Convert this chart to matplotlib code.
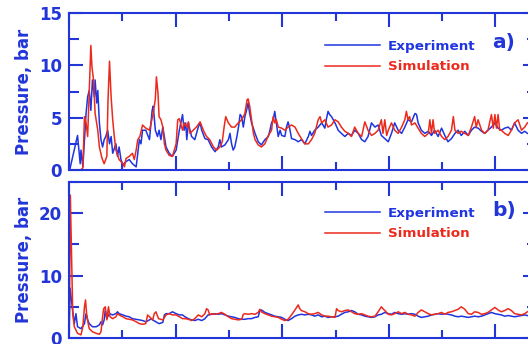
import matplotlib
matplotlib.use('Agg')
import matplotlib.pyplot as plt
from matplotlib.ticker import MultipleLocator

# --- data (time in tick units, pressure in bar) ---
exp_a_t = [
    0.02, 0.16, 0.21, 0.225, 0.26, 0.29, 0.32, 0.35, 0.38, 0.41,
    0.44, 0.475, 0.49, 0.52, 0.54, 0.57, 0.60, 0.63, 0.66, 0.69,
    0.725, 0.76, 0.79, 0.82, 0.88, 0.91, 0.94, 0.975, 1.01, 1.07,
    1.13, 1.19, 1.26, 1.29, 1.32, 1.35, 1.38, 1.44, 1.51, 1.56,
    1.58, 1.62, 1.66, 1.69, 1.725, 1.76, 1.82, 1.88, 1.94, 2.01,
    2.07, 2.13, 2.16, 2.19, 2.21, 2.24, 2.27, 2.30, 2.36, 2.425,
    2.46, 2.49, 2.55, 2.61, 2.675, 2.74, 2.80, 2.83, 2.86, 2.925,
    2.99, 3.02, 3.05, 3.08, 3.11, 3.15, 3.18, 3.21, 3.24, 3.27,
    3.30, 3.33, 3.36, 3.39, 3.425, 3.49, 3.55, 3.61, 3.675, 3.74,
    3.77, 3.80, 3.83, 3.86, 3.89, 3.925, 3.96, 3.99, 4.05, 4.08,
    4.11, 4.14, 4.175, 4.24, 4.30, 4.36, 4.425, 4.49, 4.52, 4.55,
    4.61, 4.675, 4.74, 4.80, 4.83, 4.86, 4.89, 4.925, 4.99, 5.05,
    5.11, 5.175, 5.24, 5.30, 5.36, 5.425, 5.49, 5.55, 5.61, 5.675,
    5.74, 5.80, 5.86, 5.925, 5.99, 6.05, 6.11, 6.175, 6.24, 6.30,
    6.36, 6.425, 6.49, 6.52, 6.55, 6.61, 6.675, 6.74, 6.80, 6.86,
    6.925, 6.99, 7.05, 7.11, 7.175, 7.24, 7.30, 7.36, 7.425, 7.49,
    7.55, 7.61, 7.675, 7.74, 7.80, 7.86, 7.925, 7.99, 8.05, 8.11,
    8.175, 8.24, 8.30, 8.36, 8.425, 8.49, 8.55, 8.60]
exp_a_p = [
    0.16, 3.3, 0.6, 1.9, 0.3, 2.9, 5.4, 7.0, 7.6, 5.7,
    8.6, 7.0, 8.6, 6.4, 7.6, 4.5, 2.9, 2.2, 2.9, 3.2,
    3.8, 2.5, 3.2, 1.6, 2.5, 1.3, 2.2, 1.0, 0.5, 0.8,
    1.0, 0.6, 0.3, 1.6, 2.9, 2.5, 3.8, 3.8, 2.9, 5.7,
    6.1, 3.8, 3.2, 3.8, 2.9, 4.1, 2.2, 1.6, 1.3, 1.9,
    3.8, 5.3, 3.8, 4.5, 2.9, 4.5, 3.8, 3.2, 2.9, 4.1,
    4.5, 3.8, 3.0, 2.9, 2.2, 1.75, 2.2, 2.9, 2.2, 2.4,
    2.9, 3.5, 2.5, 1.9, 2.2, 3.2, 4.1, 5.3, 5.1, 4.1,
    5.1, 5.7, 6.4, 5.4, 4.5, 3.5, 2.7, 2.4, 2.9, 3.2,
    3.8, 4.5, 4.8, 5.6, 4.5, 3.2, 3.8, 3.3, 3.2, 4.1,
    4.6, 4.0, 3.0, 2.9, 2.7, 2.9, 2.5, 3.2, 3.7, 3.3,
    3.8, 4.1, 4.5, 4.0, 4.9, 5.6, 5.3, 5.1, 4.5, 3.8,
    3.5, 3.2, 3.5, 3.3, 3.8, 3.5, 2.9, 2.7, 3.2, 4.5,
    4.1, 4.3, 3.3, 3.0, 2.7, 3.5, 4.5, 3.8, 3.5, 4.1,
    4.8, 4.6, 5.4, 5.3, 4.5, 3.8, 3.5, 3.7, 3.3, 3.8,
    3.2, 4.0, 3.3, 2.7, 3.0, 3.5, 3.8, 3.3, 3.7, 3.3,
    3.8, 4.1, 4.0, 3.7, 3.5, 3.8, 4.1, 4.5, 4.0, 3.8,
    4.0, 4.1, 3.8, 4.5, 3.8, 3.5, 3.7, 3.5]

sim_a_t = [
    0.22, 0.26, 0.29, 0.32, 0.35, 0.37, 0.39, 0.41, 0.43, 0.46,
    0.49, 0.54, 0.57, 0.62, 0.66, 0.71, 0.73, 0.76, 0.79, 0.82,
    0.85, 0.88, 0.94, 1.01, 1.04, 1.07, 1.13, 1.19, 1.225, 1.26,
    1.29, 1.33, 1.38, 1.44, 1.51, 1.54, 1.58, 1.62, 1.64, 1.67,
    1.69, 1.725, 1.76, 1.79, 1.82, 1.88, 1.94, 2.01, 2.04, 2.07,
    2.13, 2.16, 2.21, 2.24, 2.27, 2.33, 2.39, 2.46, 2.52, 2.58,
    2.64, 2.71, 2.77, 2.83, 2.875, 2.91, 2.94, 2.99, 3.05, 3.11,
    3.175, 3.24, 3.30, 3.34, 3.36, 3.39, 3.425, 3.46, 3.49, 3.55,
    3.61, 3.675, 3.74, 3.80, 3.83, 3.86, 3.89, 3.925, 3.99, 4.05,
    4.11, 4.175, 4.24, 4.30, 4.36, 4.425, 4.49, 4.55, 4.61, 4.675,
    4.71, 4.74, 4.80, 4.86, 4.925, 4.99, 5.05, 5.11, 5.175, 5.24,
    5.30, 5.36, 5.425, 5.49, 5.55, 5.61, 5.675, 5.74, 5.80, 5.86,
    5.89, 5.925, 5.96, 5.99, 6.05, 6.11, 6.175, 6.24, 6.30, 6.33,
    6.36, 6.39, 6.425, 6.49, 6.55, 6.61, 6.675, 6.74, 6.77, 6.80,
    6.83, 6.86, 6.925, 6.99, 7.05, 7.11, 7.175, 7.21, 7.24, 7.30,
    7.36, 7.425, 7.49, 7.55, 7.61, 7.64, 7.675, 7.74, 7.80, 7.86,
    7.925, 7.96, 7.99, 8.02, 8.05, 8.08, 8.11, 8.175, 8.24, 8.30,
    8.36, 8.425, 8.49, 8.55, 8.60]
sim_a_p = [
    0.0, 0.2, 5.1, 4.5, 3.2, 6.1, 9.2, 11.9, 9.9, 8.6,
    5.4, 3.8, 2.2, 1.1, 0.6, 1.3, 6.4, 10.4, 7.0, 4.8,
    3.2, 1.9, 1.0, 0.6, 0.3, 1.1, 1.3, 1.6, 1.0, 1.9,
    2.9, 3.2, 4.3, 4.0, 3.8, 4.5, 5.4, 6.8, 8.9, 7.3,
    5.1, 4.8, 4.1, 2.5, 1.9, 1.4, 1.3, 2.5, 4.8, 4.9,
    3.8, 4.5, 4.1, 4.6, 3.5, 3.8, 4.1, 4.6, 3.8, 3.2,
    2.9, 2.2, 1.9, 2.2, 2.7, 4.1, 5.1, 4.5, 4.1, 4.1,
    4.5, 4.8, 5.4, 6.7, 6.8, 6.1, 4.8, 3.5, 2.9, 2.4,
    2.2, 2.5, 3.3, 3.8, 5.1, 4.5, 4.8, 4.1, 4.0, 3.8,
    4.1, 4.3, 4.1, 3.5, 3.0, 2.5, 2.5, 2.9, 3.5, 4.8,
    5.1, 4.5, 4.8, 4.1, 4.3, 4.8, 4.6, 4.1, 3.7, 3.5,
    3.2, 4.1, 3.5, 3.2, 4.6, 3.8, 3.3, 3.5, 3.8, 4.8,
    3.5, 4.8, 3.3, 3.8, 4.5, 3.8, 3.5, 4.1, 4.8, 5.6,
    4.8, 5.1, 4.3, 4.5, 4.0, 3.5, 3.2, 3.5, 4.8, 3.5,
    4.8, 3.5, 3.8, 3.2, 2.9, 3.2, 3.8, 5.1, 3.8, 3.5,
    3.7, 3.5, 3.3, 4.1, 5.1, 4.1, 4.8, 3.8, 3.5, 3.8,
    5.3, 4.0, 5.3, 4.0, 5.3, 3.8, 3.8, 3.5, 3.3, 3.8,
    4.5, 4.8, 3.8, 4.1, 4.5]

exp_b_t = [
    0.0, 0.02, 0.06, 0.10, 0.13, 0.16, 0.225, 0.29, 0.32, 0.35,
    0.38, 0.44, 0.51, 0.57, 0.60, 0.63, 0.66, 0.68, 0.71, 0.725,
    0.76, 0.82, 0.88, 0.91, 0.94, 1.01, 1.07, 1.13, 1.19, 1.26,
    1.32, 1.38, 1.44, 1.51, 1.54, 1.57, 1.63, 1.69, 1.76, 1.79,
    1.82, 1.88, 1.94, 2.01, 2.07, 2.13, 2.175, 2.24, 2.30, 2.36,
    2.425, 2.49, 2.55, 2.61, 2.675, 2.74, 2.80, 2.86, 2.925, 2.99,
    3.05, 3.11, 3.175, 3.24, 3.30, 3.36, 3.425, 3.49, 3.55, 3.58,
    3.61, 3.675, 3.74, 3.80, 3.86, 3.925, 3.99, 4.05, 4.11, 4.175,
    4.24, 4.30, 4.36, 4.425, 4.49, 4.55, 4.61, 4.675, 4.74, 4.80,
    4.86, 4.925, 4.99, 5.05, 5.11, 5.175, 5.24, 5.30, 5.36, 5.425,
    5.49, 5.55, 5.61, 5.675, 5.74, 5.80, 5.86, 5.925, 5.99, 6.05,
    6.11, 6.175, 6.24, 6.30, 6.36, 6.425, 6.49, 6.55, 6.61, 6.675,
    6.74, 6.80, 6.86, 6.925, 6.99, 7.05, 7.11, 7.175, 7.24, 7.30,
    7.36, 7.425, 7.49, 7.55, 7.61, 7.675, 7.74, 7.80, 7.86, 7.925,
    7.99, 8.05, 8.11, 8.175, 8.24, 8.30, 8.36, 8.425, 8.49, 8.55,
    8.60]
exp_b_p = [
    0.75, 8.0, 5.0, 2.3, 3.9, 1.8, 1.5, 2.3, 3.9, 2.9,
    2.3, 1.8, 1.8, 2.1, 2.6, 2.1, 2.9, 4.5, 3.1, 3.4,
    3.9, 3.7, 3.9, 4.2, 3.9, 3.7, 3.5, 3.4, 3.1, 3.0,
    2.9, 2.8, 2.6, 2.9, 3.1, 2.9, 2.6, 2.3, 2.5, 3.7,
    3.9, 3.9, 4.2, 3.9, 3.7, 3.7, 3.4, 3.1, 2.9, 2.8,
    3.0, 2.8, 3.1, 3.7, 3.8, 3.9, 3.8, 3.9, 3.7, 3.5,
    3.4, 3.3, 3.1, 3.0, 3.0, 3.1, 3.1, 3.3, 3.4, 4.4,
    4.5, 4.1, 3.9, 3.7, 3.5, 3.4, 3.3, 3.0, 2.8, 3.1,
    3.5, 3.7, 3.8, 3.7, 3.8, 3.7, 3.5, 3.7, 3.4, 3.5,
    3.3, 3.4, 3.4, 3.5, 3.8, 4.1, 4.2, 4.4, 4.2, 3.8,
    3.7, 3.5, 3.4, 3.3, 3.4, 3.7, 3.8, 4.1, 3.9, 3.8,
    4.1, 3.9, 3.8, 3.9, 3.8, 3.9, 3.8, 3.5, 3.3, 3.4,
    3.5, 3.7, 3.8, 3.9, 3.8, 3.9, 3.8, 3.7, 3.5, 3.4,
    3.5, 3.4, 3.3, 3.4, 3.5, 3.4, 3.5, 3.7, 3.9, 4.1,
    3.9, 3.8, 3.7, 3.5, 3.6, 3.5, 3.4, 3.5, 3.6, 3.7,
    3.6]

sim_b_t = [
    0.0, 0.006, 0.025, 0.045, 0.07, 0.10, 0.16, 0.225, 0.26, 0.29,
    0.31, 0.33, 0.36, 0.38, 0.44, 0.51, 0.57, 0.60, 0.63, 0.65,
    0.68, 0.71, 0.74, 0.77, 0.82, 0.88, 0.91, 0.94, 1.01, 1.07,
    1.13, 1.19, 1.26, 1.32, 1.38, 1.44, 1.475, 1.51, 1.57, 1.60,
    1.63, 1.68, 1.76, 1.82, 1.88, 1.94, 2.01, 2.07, 2.13, 2.175,
    2.24, 2.30, 2.36, 2.425, 2.49, 2.55, 2.58, 2.61, 2.64, 2.675,
    2.74, 2.80, 2.86, 2.925, 2.99, 3.05, 3.11, 3.175, 3.24, 3.27,
    3.30, 3.36, 3.425, 3.49, 3.55, 3.58, 3.61, 3.675, 3.74, 3.80,
    3.86, 3.925, 3.99, 4.05, 4.11, 4.175, 4.24, 4.30, 4.33, 4.36,
    4.425, 4.49, 4.55, 4.61, 4.675, 4.74, 4.80, 4.86, 4.925, 4.99,
    5.02, 5.05, 5.11, 5.175, 5.24, 5.30, 5.36, 5.425, 5.49, 5.55,
    5.61, 5.675, 5.74, 5.80, 5.86, 5.89, 5.925, 5.99, 6.05, 6.11,
    6.175, 6.24, 6.30, 6.36, 6.425, 6.49, 6.55, 6.61, 6.675, 6.74,
    6.80, 6.86, 6.925, 6.99, 7.05, 7.11, 7.175, 7.24, 7.30, 7.36,
    7.425, 7.49, 7.55, 7.61, 7.675, 7.74, 7.80, 7.86, 7.925, 7.99,
    8.05, 8.11, 8.175, 8.24, 8.30, 8.36, 8.425, 8.49, 8.55, 8.60]
sim_b_p = [
    0.5, 0.75, 22.9, 14.6, 3.9, 1.8, 0.75, 0.5, 1.8, 5.0,
    6.1, 3.9, 2.3, 1.5, 1.0, 0.75, 0.6, 1.0, 3.4, 4.7,
    5.0, 2.9, 5.0, 3.4, 3.1, 3.4, 3.9, 3.7, 3.4, 3.1,
    3.0, 2.9, 2.6, 2.3, 2.2, 2.3, 3.7, 3.4, 2.9, 3.9,
    4.2, 3.1, 2.9, 3.7, 3.9, 3.7, 3.7, 3.4, 3.1, 3.1,
    3.0, 2.8, 3.1, 3.7, 3.4, 3.9, 4.7, 4.5, 3.7, 3.9,
    3.8, 3.9, 4.1, 3.8, 3.4, 3.1, 3.0, 2.9, 3.0, 3.8,
    3.9, 3.8, 3.9, 3.8, 4.1, 4.6, 4.2, 3.9, 3.7, 3.5,
    3.4, 3.3, 3.0, 2.8, 3.0, 3.7, 4.5, 5.3, 4.7, 4.4,
    4.2, 3.9, 3.8, 3.9, 4.1, 3.7, 3.5, 3.5, 3.4, 3.3,
    4.7, 4.4, 4.2, 4.4, 4.5, 4.2, 3.9, 3.8, 3.9, 3.7,
    3.5, 3.4, 3.5, 4.2, 5.0, 4.7, 4.4, 3.8, 3.7, 3.9,
    4.2, 3.9, 4.1, 3.8, 3.7, 3.5, 4.1, 4.5, 4.2, 3.9,
    3.7, 3.8, 3.9, 4.1, 3.8, 4.1, 4.2, 4.4, 4.6, 5.0,
    4.6, 3.9, 3.8, 4.2, 4.1, 3.8, 3.9, 4.1, 4.5, 4.9,
    4.5, 4.2, 4.4, 4.7, 4.4, 3.9, 3.8, 3.7, 3.9, 4.2]

labels = ['Experiment', 'Simulation']
tags = ['a)', 'b)']

BLUE = '#1f35e0'
RED = '#ec2a1c'
AXC = '#2236d8'

plt.rcParams['font.family'] = 'DejaVu Sans'
plt.rcParams['font.weight'] = 'bold'

fig = plt.figure(figsize=(5.28, 3.44), dpi=100)
W = 468 / 528
ax_a = fig.add_axes([69 / 528, 1 - 170 / 344, W, 157 / 344])
ax_b = fig.add_axes([69 / 528, 1 - 338 / 344, W, 156 / 344])

ax_a.plot(exp_a_t, exp_a_p, color=BLUE, lw=1.1, label=labels[0])
ax_a.plot(sim_a_t, sim_a_p, color=RED, lw=1.1, label=labels[1])
ax_b.plot(exp_b_t, exp_b_p, color=BLUE, lw=1.1, label=labels[0])
ax_b.plot(sim_b_t, sim_b_p, color=RED, lw=1.1, label=labels[1])

settings = [
    (ax_a, 15, 5, 2.5, tags[0], 0.809, 0.828),
    (ax_b, 25, 10, 5, tags[1], 0.82, 0.84),
]
for ax, ymax, ymaj, ymin, tag, tag_y, leg_y in settings:
    ax.set_xlim(0, 8.78)
    ax.set_ylim(0, ymax)
    ax.xaxis.set_major_locator(MultipleLocator(2))
    ax.xaxis.set_minor_locator(MultipleLocator(1))
    ax.yaxis.set_major_locator(MultipleLocator(ymaj))
    ax.yaxis.set_minor_locator(MultipleLocator(ymin))
    ax.tick_params(which='both', direction='in', top=True, right=True,
                   color=AXC, width=1.5, labelbottom=False)
    ax.tick_params(which='major', length=10)
    ax.tick_params(axis='x', which='minor', length=6)
    ax.tick_params(axis='y', which='minor', length=7)
    ax.tick_params(axis='y', labelsize=12, labelcolor=AXC, pad=5)
    for sp in ax.spines.values():
        sp.set_color(AXC)
        sp.set_linewidth(1.5)
    ax.set_ylabel('Pressure, bar', fontsize=12, color=AXC, fontweight='bold')
    ax.yaxis.set_label_coords(-0.077, 0.5)
    ax.legend(loc='upper left', bbox_to_anchor=(0.547, leg_y), frameon=False,
              prop={'weight': 'bold', 'size': 9.7}, handlelength=4.07,
              handletextpad=0.6, labelspacing=0.55, borderpad=0,
              borderaxespad=0, labelcolor='linecolor')
    ax.text(0.904, tag_y, tag, transform=ax.transAxes, fontsize=14.5,
            color=AXC, fontweight='bold', ha='left', va='center')

fig.savefig('out.png', dpi=100)
